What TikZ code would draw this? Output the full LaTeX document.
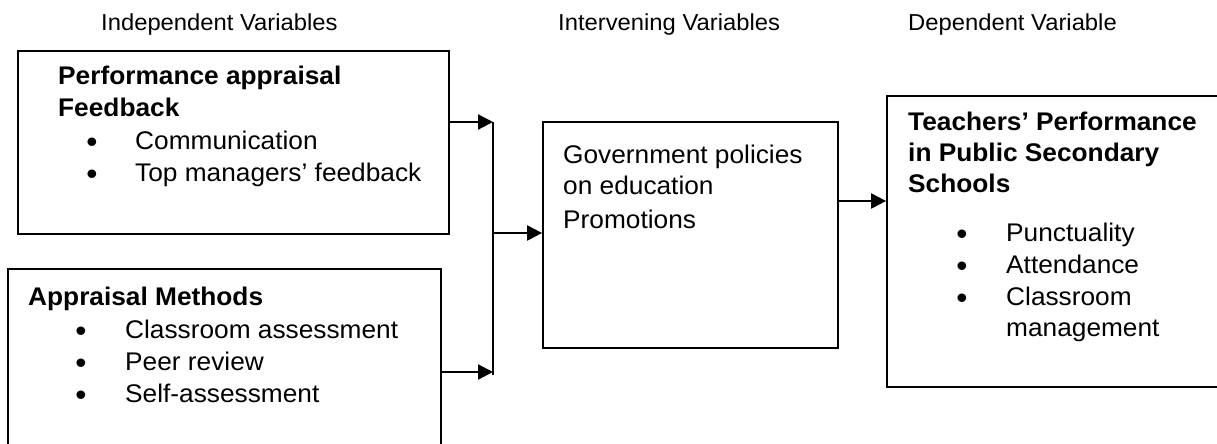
\documentclass[tikz,border=0pt]{standalone}
\usepackage{fontspec}
\setmainfont{Liberation Sans}[FakeStretch=1.03]
\usetikzlibrary{arrows.meta}
\begin{document}
\begin{tikzpicture}[x=1pt,y=-1pt,
  box/.style={draw=black, line width=1.8pt, inner sep=0pt, fill=white},
  txt/.style={anchor=base west, inner sep=0pt, font=\fontsize{25.5pt}{30pt}\selectfont},
  ttl/.style={txt, font=\fontsize{25.5pt}{30pt}\selectfont\bfseries},
  hdr/.style={anchor=base west, inner sep=0pt, font=\fontsize{23.1pt}{28pt}\selectfont},
  bul/.style={anchor=base, inner sep=0pt, yshift=-3.5pt, font=\fontsize{31pt}{34pt}\selectfont},
  conn/.style={line width=2.2pt},
  arr/.style={conn, -{Triangle[length=15pt,width=15pt]}}]
\useasboundingbox (0,0) rectangle (1217,444);
\fill[white] (0,0) rectangle (1217,444);

% headers
\node[hdr] (h1) at (101,31) {Independent Variables};
\node[hdr] (h2) at (558,31) {Intervening Variables};
\node[hdr] (h3) at (908,31) {Dependent Variable};

% boxes
\node[box, minimum width=431pt, minimum height=183pt] (fb) at (233.5,142.5) {};
\node[box, minimum width=433pt, minimum height=210pt] (am) at (224.5,374) {};
\node[box, minimum width=295pt, minimum height=226pt] (gov) at (690.5,235) {};
\node[box, minimum width=360pt, minimum height=291pt] (tp) at (1067,241.5) {};

% box 1 text
\node[ttl] (fb1) at (58,84) {Performance appraisal};
\node[ttl] (fb2) at (58,116) {Feedback};
\node[bul] (fbb1) at (92,149) {\textbullet};
\node[txt] (fbi1) at (135,149) {Communication};
\node[bul] (fbb2) at (92,181) {\textbullet};
\node[txt] (fbi2) at (135,181) {Top managers’ feedback};

% box 2 text
\node[ttl] (am1) at (28,305) {Appraisal Methods};
\node[bul] (amb1) at (81,338) {\textbullet};
\node[txt] (ami1) at (125,338) {Classroom assessment};
\node[bul] (amb2) at (81,370) {\textbullet};
\node[txt] (ami2) at (125,370) {Peer review};
\node[bul] (amb3) at (81,402) {\textbullet};
\node[txt] (ami3) at (125,402) {Self-assessment};

% middle box text
\node[txt] (g1) at (563,163) {Government policies};
\node[txt] (g2) at (563,194) {on education};
\node[txt] (g3) at (563,228) {Promotions};

% right box text
\node[ttl] (t1) at (908,130) {Teachers’ Performance};
\node[ttl] (t2) at (908,161) {in Public Secondary};
\node[ttl] (t3) at (908,192) {Schools};
\node[bul] (tb1) at (962,241) {\textbullet};
\node[txt] (ti1) at (1006,241) {Punctuality};
\node[bul] (tb2) at (962,273) {\textbullet};
\node[txt] (ti2) at (1006,273) {Attendance};
\node[bul] (tb3) at (962,305) {\textbullet};
\node[txt] (ti3) at (1006,305) {Classroom};
\node[txt] (ti4) at (1006,336) {management};

% connectors
\coordinate (j1) at (493,122);
\coordinate (j2) at (493,233);
\coordinate (j3) at (493,372);
\coordinate (jb) at (493,375);
\coordinate (m) at (860,201);
\draw[arr] (fb.east |- j1) -- (j1);
\draw[conn] (j1) -- (jb);
\draw[arr] (am.east |- j3) -- (j3);
\draw[arr] (j2) -- (gov.west |- j2);
\draw[arr] (gov.east |- m) -- (tp.west |- m);
\end{tikzpicture}
\end{document}
